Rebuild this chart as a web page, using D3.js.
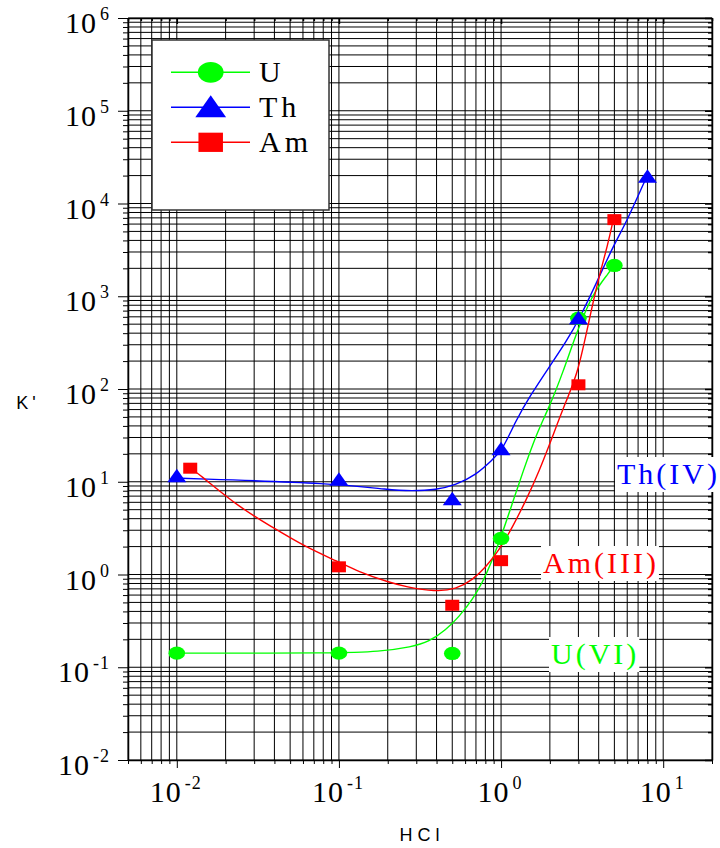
<!DOCTYPE html>
<html>
<head>
<meta charset="utf-8">
<script src="https://cdn.jsdelivr.net/npm/d3@7"></script>
<style>
  html, body { margin: 0; padding: 0; background: #fff; }
  svg { display: block; }
</style>
</head>
<body>
<svg id="chart" width="720" height="848"></svg>
<script>
// ---- data ----
const xTickValues = [0.01, 0.1, 1, 10];
const xTickExponents = ["-2", "-1", "0", "1"];
const yTickValues = [1e-2, 1e-1, 1e0, 1e1, 1e2, 1e3, 1e4, 1e5, 1e6];
const yTickExponents = ["-2", "-1", "0", "1", "2", "3", "4", "5", "6"];

const seriesNames = ["U", "Th", "Am"];
const seriesLabels = ["U(VI)", "Th(IV)", "Am(III)"];

// measured distribution ratios
const uX  = [0.01, 0.1, 0.5, 1, 3, 5];
const uY  = [0.142, 0.142, 0.141, 2.45, 580, 2150];
const thX = [0.01, 0.1, 0.5, 1, 3, 8];
const thY = [11.5, 10.5, 6.5, 22.4, 580, 19500];
const amX = [0.0121, 0.1, 0.5, 1, 3, 5];
const amY = [14.0, 1.21, 0.466, 1.41, 111, 6700];

// fitted curves
const uFitX  = [0.01, 0.1, 0.176, 0.282, 0.359, 0.456, 0.551, 0.664, 0.766, 0.883, 1.02, 1.175, 1.355, 1.66, 1.99, 2.40, 2.92, 3.68, 4.69, 4.9];
const uFitY  = [0.142, 0.142, 0.147, 0.166, 0.188, 0.252, 0.351, 0.531, 0.81, 1.43, 2.8, 5.9, 12.4, 33.6, 64.6, 149, 403, 1088, 1832, 2130];
const thFitX = [0.0106, 0.0994, 0.203, 0.282, 0.397, 0.526, 0.700, 0.883, 1.02, 1.24, 1.50, 1.99, 2.53, 3.06, 3.88, 4.90, 5.96, 7.92];
const thFitY = [10.9, 9.6, 8.16, 7.95, 8.16, 9.24, 11.8, 17.2, 22.0, 46.4, 82.8, 175, 325, 585, 1396, 3437, 6392, 19550];
const amFitX = [0.0121, 0.0135, 0.0239, 0.0384, 0.0618, 0.0994, 0.132, 0.203, 0.258, 0.395, 0.526, 0.667, 0.807, 0.976, 1.18, 1.43, 1.73, 2.04, 2.53, 2.98, 3.53, 3.97, 4.58, 4.92];
const amFitY = [14.0, 12.4, 5.39, 3.28, 1.99, 1.37, 1.07, 0.824, 0.738, 0.652, 0.692, 0.873, 1.21, 1.84, 3.28, 6.36, 13.4, 28.3, 76.3, 148, 604, 1503, 3741, 6670];

// ---- layout ----
const svg = d3.select("#chart");
const plot = { left: 128, top: 18, right: 712, bottom: 760 };
const colors = { U: "#00ff00", Th: "#0000ff", Am: "#ff0000" };
const serif = "'Liberation Serif', 'Times New Roman', serif";
const sans = "'Liberation Sans', Arial, sans-serif";

const x = d3.scaleLog().domain([0.005, 20]).range([plot.left, plot.right]);
const y = d3.scaleLog().domain([1e-2, 1e6]).range([plot.bottom, plot.top]);

// minor/major grid positions across each decade
function logGridValues(lo, hi) {
  const vals = [];
  const e0 = Math.floor(Math.log10(lo)), e1 = Math.ceil(Math.log10(hi));
  for (let e = e0; e <= e1; e++) {
    for (let m = 1; m <= 9; m++) {
      const v = m * Math.pow(10, e);
      if (v >= lo * 0.9999 && v <= hi * 1.0001) vals.push(v);
    }
  }
  return vals;
}
const xGrid = logGridValues(0.005, 20);
const yGrid = logGridValues(1e-2, 1e6);

const grid = svg.append("g").attr("stroke", "#000").attr("stroke-width", 1);
grid.selectAll("line.vx").data(xGrid).join("line")
  .attr("x1", d => x(d)).attr("x2", d => x(d))
  .attr("y1", plot.top).attr("y2", plot.bottom);
grid.selectAll("line.hy").data(yGrid).join("line")
  .attr("x1", plot.left).attr("x2", plot.right)
  .attr("y1", d => y(d)).attr("y2", d => y(d));

// axes (ticks only; labels drawn with superscripts below)
const isMajor = v => Math.abs(Math.log10(v) - Math.round(Math.log10(v))) < 1e-6;
const axisBottom = d3.axisBottom(x).tickValues(xGrid).tickFormat("")
  .tickSize(8).tickSizeOuter(0);
const gB = svg.append("g").attr("transform", `translate(0,${plot.bottom})`).call(axisBottom);
gB.selectAll(".tick line").attr("y2", d => isMajor(d) ? 8 : 4);
const axisLeft = d3.axisLeft(y).tickValues(yGrid).tickFormat("").tickSize(10).tickSizeOuter(0);
const gL = svg.append("g").attr("transform", `translate(${plot.left},0)`).call(axisLeft);
gL.selectAll(".tick line").attr("x2", d => isMajor(d) ? -10 : -5);
const axisRight = d3.axisLeft(y).tickValues(yGrid).tickFormat("").tickSize(7).tickSizeOuter(0);
const gR = svg.append("g").attr("transform", `translate(${plot.right},0)`).call(axisRight);
gR.selectAll(".tick line").attr("x2", d => isMajor(d) ? -7 : -4).attr("stroke-width", 1.5);
const axisTop = d3.axisBottom(x).tickValues(xGrid).tickFormat("").tickSize(6).tickSizeOuter(0);
const gT = svg.append("g").attr("transform", `translate(0,${plot.top})`).call(axisTop);
gT.selectAll(".tick line").attr("y2", d => isMajor(d) ? 6 : 3).attr("stroke-width", 1.5);
[gB, gL, gR, gT].forEach(g => g.select(".domain").attr("stroke", "#000").attr("stroke-width", 1.5));

// tick labels: 10 with superscript exponent
const yLab = svg.append("g").attr("font-family", serif).attr("fill", "#000");
yTickValues.forEach((v, i) => {
  const t = yLab.append("text").attr("x", 110).attr("y", y(v) + 15)
    .attr("text-anchor", "end").attr("font-size", 30).attr("letter-spacing", 1);
  t.append("tspan").text("10");
  t.append("tspan").attr("dy", -13).attr("dx", 3).attr("font-size", 18).text(yTickExponents[i]);
});
const xLab = svg.append("g").attr("font-family", serif).attr("fill", "#000");
xTickValues.forEach((v, i) => {
  const t = xLab.append("text").attr("x", x(v) - 1).attr("y", 802)
    .attr("text-anchor", "middle").attr("font-size", 30).attr("letter-spacing", 1);
  t.append("tspan").text("10");
  t.append("tspan").attr("dy", -13).attr("dx", 3).attr("font-size", 18).text(xTickExponents[i]);
});

// axis titles
svg.append("text").attr("x", 28).attr("y", 409).attr("text-anchor", "middle")
  .attr("font-family", sans).attr("font-size", 18).attr("letter-spacing", 4).text("K'");
svg.append("text").attr("x", 422).attr("y", 841).attr("text-anchor", "middle")
  .attr("font-family", sans).attr("font-size", 18).attr("letter-spacing", 5).text("HCl");

// fitted curves (B-spline smoothing through the sampled fit)
const line = d3.line().x(d => x(d[0])).y(d => y(d[1])).curve(d3.curveBasis);
const fits = [
  { name: "U", xs: uFitX, ys: uFitY },
  { name: "Th", xs: thFitX, ys: thFitY },
  { name: "Am", xs: amFitX, ys: amFitY }
];
const curves = svg.append("g").attr("fill", "none").attr("stroke-width", 1.4);
fits.forEach(f => {
  curves.append("path").datum(d3.zip(f.xs, f.ys))
    .attr("stroke", colors[f.name]).attr("d", line);
});

// marker shapes (slightly wider than tall)
function drawMarker(g, name, cx, cy, s) {
  if (name === "U") {
    g.append("ellipse").attr("cx", cx).attr("cy", cy).attr("rx", 8.3 * s).attr("ry", 6.7 * s)
      .attr("fill", colors.U);
  } else if (name === "Th") {
    const w = 19 * s, h = 13.5 * s;
    g.append("path").attr("d", `M${cx},${cy - h * 0.55}L${cx + w / 2},${cy + h * 0.45}L${cx - w / 2},${cy + h * 0.45}Z`)
      .attr("fill", colors.Th);
  } else {
    const w = 14 * s, h = 11 * s;
    g.append("rect").attr("x", cx - w / 2).attr("y", cy - h / 2).attr("width", w).attr("height", h)
      .attr("fill", colors.Am);
  }
}
const points = [
  { name: "Am", xs: amX, ys: amY },
  { name: "U", xs: uX, ys: uY },
  { name: "Th", xs: thX, ys: thY }
];
const marks = svg.append("g");
points.forEach(p => {
  p.xs.forEach((xv, i) => drawMarker(marks, p.name, x(xv), y(p.ys[i]), 1));
});

// series annotations with white backing
const annot = [
  { name: "Th", text: seriesLabels[1], px: 617, py: 484 },
  { name: "Am", text: seriesLabels[2], px: 543, py: 573 },
  { name: "U", text: seriesLabels[0], px: 551, py: 664 }
];
const ag = svg.append("g");
annot.forEach(a => {
  const g = ag.append("g");
  const r = g.append("rect").attr("fill", "#fff");
  const t = g.append("text").attr("x", a.px).attr("y", a.py)
    .attr("font-family", serif).attr("font-size", 30).attr("letter-spacing", 3)
    .attr("fill", colors[a.name]).text(a.text);
  const bb = t.node().getBBox();
  r.attr("x", bb.x - 2).attr("y", a.py - 27).attr("width", bb.width + 2).attr("height", 35);
});

// legend
const lg = svg.append("g");
lg.append("rect").attr("x", 152).attr("y", 40).attr("width", 177).attr("height", 170)
  .attr("fill", "#fff").attr("stroke", "#333").attr("stroke-width", 1.5);
seriesNames.forEach((n, i) => {
  const cy = 72.3 + i * 35;
  lg.append("line").attr("x1", 171).attr("x2", 250).attr("y1", cy).attr("y2", cy)
    .attr("stroke", colors[n]).attr("stroke-width", 1.4);
  drawMarker(lg, n, 210.7, cy, n === "U" ? 1.55 : (n === "Th" ? 1.62 : 1.75));
  lg.append("text").attr("x", 259).attr("y", cy + 10)
    .attr("font-family", serif).attr("font-size", 30).attr("letter-spacing", 4).text(n);
});
</script>
</body>
</html>
